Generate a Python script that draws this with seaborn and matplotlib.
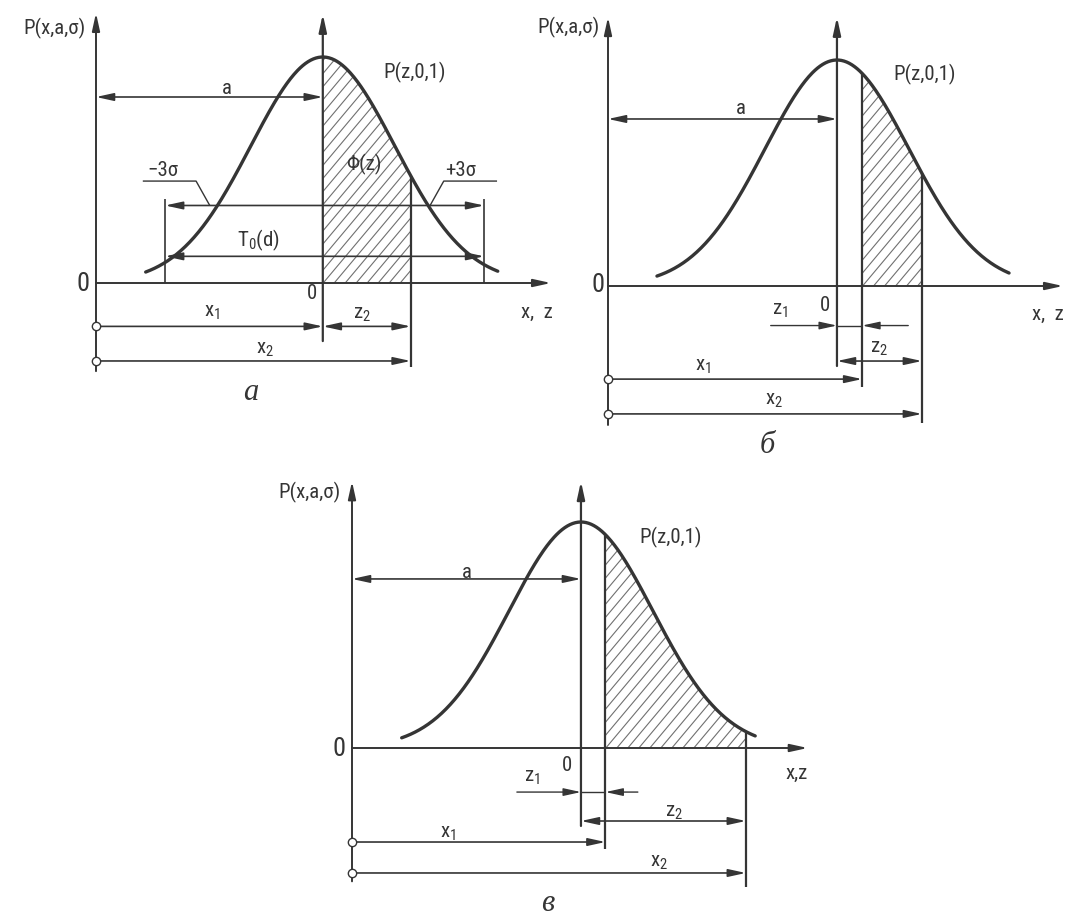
import numpy as np
import matplotlib
matplotlib.use("Agg")
import matplotlib.pyplot as plt
import seaborn as sns
from matplotlib import font_manager
from matplotlib.collections import LineCollection
from matplotlib.patches import Polygon

# ---------------------------------------------------------------------------
# Diagram parameters: horizontal values in units of sigma, vertical values
# in units of the peak density (the bell curve is normalised to a height of 1).
# ---------------------------------------------------------------------------
panel_names = ["а", "б", "в"]
mean_a = [3.15, 3.18, 3.18]            # distance a from the P-axis to the mean
z_lower = [0.0, 0.35, 0.34]            # z1, left edge of the shaded area
z_upper = [1.22, 1.18, 2.29]           # z2, right edge of the shaded area
curve_left = [-2.46, -2.50, -2.49]     # z where each drawn curve starts
curve_right = [2.43, 2.39, 2.42]       # z where each drawn curve ends
tolerance_z = [-2.19, 2.24]            # ends of the T0(d) field (panel a)

# ---------------------------------------------------------------------------
W, H, DPI = 1067, 920, 100
PX_X, PX_Y = 72.0, 226.0               # pixels per horizontal / vertical unit
INK = "#353535"
HATCH_INK = "#707070"
XLIM, YLIM = (-1.6, 6.7), (-0.8, 1.3)

sns.set_theme(style="white")
available = {f.name for f in font_manager.fontManager.ttflist}
SANS = next(n for n in ["Liberation Sans Narrow", "Roboto Condensed",
                        "Liberation Sans", "DejaVu Sans"] if n in available)
SERIF = "Liberation Serif" if "Liberation Serif" in available else "DejaVu Serif"
plt.rcParams["font.family"] = [SANS, "DejaVu Sans"]
plt.rcParams["mathtext.fontset"] = "custom"
plt.rcParams["mathtext.rm"] = SANS
plt.rcParams["mathtext.it"] = SANS
plt.rcParams["mathtext.default"] = "regular"

TXT = 15
ZERO_TXT = 19
CAP_TXT = 22

specs = [
    dict(origin=(96, 284), p_axis=(-0.39, 1.195), c_axis=(-0.257, 1.19),
         a_row=0.823, z1_row=None, z1_tails=None, z2_row=-0.192,
         x1_row=-0.192, x2_row=-0.345, z1_bottom=None, z2_bottom=-0.372,
         x_tip=6.32,
         labels=[("P(x,a,σ)", -0.14, 1.13, dict(ha="right")),
                 ("0", -0.18, 0.0, dict(size=ZERO_TXT)),
                 ("P(z,0,1)", 4.42, 0.938, {}),
                 ("a", 1.82, 0.867, {}),
                 ("Φ(z)", 3.72, 0.527, {}),
                 ("−3σ", 0.93, 0.504, {}),
                 ("+3σ", 5.06, 0.504, {}),
                 ("T$_0$(d)", 2.25, 0.195, {}),
                 ("0", 3.0, -0.04, {}),
                 ("x$_1$", 1.61, -0.128, {}),
                 ("z$_2$", 3.69, -0.137, {}),
                 ("x$_2$", 2.35, -0.292, {}),
                 ("x,  z", 6.13, -0.124, {})],
         caption=(2.15, -0.482)),
    dict(origin=(608, 287), p_axis=(-0.615, 1.19), c_axis=(-0.354, 1.19),
         a_row=0.739, z1_row=-0.175, z1_tails=(-0.92, 0.99), z2_row=-0.332,
         x1_row=-0.412, x2_row=-0.566, z1_bottom=-0.447, z2_bottom=-0.606,
         x_tip=6.32,
         labels=[("P(x,a,σ)", -0.12, 1.15, dict(ha="right")),
                 ("0", -0.14, 0.01, dict(size=ZERO_TXT)),
                 ("P(z,0,1)", 4.40, 0.942, {}),
                 ("a", 1.85, 0.792, {}),
                 ("z$_1$", 2.39, -0.102, {}),
                 ("0", 3.01, -0.08, {}),
                 ("z$_2$", 3.76, -0.274, {}),
                 ("x$_1$", 1.32, -0.35, {}),
                 ("x$_2$", 2.31, -0.504, {}),
                 ("x,  z", 6.11, -0.119, {})],
         caption=(2.22, -0.70)),
    dict(origin=(352, 749), p_axis=(-0.59, 1.18), c_axis=(-0.345, 1.18),
         a_row=0.748, z1_row=-0.195, z1_tails=(-0.89, 0.79), z2_row=-0.323,
         x1_row=-0.416, x2_row=-0.553, z1_bottom=-0.447, z2_bottom=-0.615,
         x_tip=6.33,
         labels=[("P(x,a,σ)", -0.16, 1.133, dict(ha="right")),
                 ("0", -0.18, 0.0, dict(size=ZERO_TXT)),
                 ("P(z,0,1)", 4.42, 0.934, {}),
                 ("a", 1.60, 0.783, {}),
                 ("z$_1$", 2.5, -0.128, {}),
                 ("0", 2.99, -0.071, {}),
                 ("z$_2$", 4.47, -0.279, {}),
                 ("x$_1$", 1.33, -0.372, {}),
                 ("x$_2$", 4.26, -0.504, {}),
                 ("x,z", 6.17, -0.106, {})],
         caption=(2.72, -0.685)),
]


def density(z):
    return np.exp(-0.5 * np.asarray(z) ** 2)


def arrow(ax, start, end, style="-|>", lw=1.0):
    ax.annotate("", xy=end, xytext=start, annotation_clip=False,
                arrowprops=dict(arrowstyle=f"{style},head_length=10.5,head_width=2.3",
                                mutation_scale=1, lw=lw, color=INK,
                                shrinkA=0, shrinkB=0))


def line(ax, xs, ys, lw=1.0, color=INK):
    ax.plot(xs, ys, color=color, lw=lw, solid_capstyle="butt", clip_on=False)


def panel_axes(fig, origin):
    ox, oy = origin
    left = (ox + XLIM[0] * PX_X) / W
    right = (ox + XLIM[1] * PX_X) / W
    top = 1 - (oy - YLIM[1] * PX_Y) / H
    bottom = 1 - (oy - YLIM[0] * PX_Y) / H
    ax = fig.add_axes([left, bottom, right - left, top - bottom])
    ax.set_xlim(*XLIM)
    ax.set_ylim(*YLIM)
    ax.set_facecolor("none")
    ax.axis("off")
    return ax


def hatch_area(ax, a, zl, zu):
    zs = np.linspace(zl, zu, 200)
    pts = np.column_stack([np.r_[a + zl, a + zs, a + zu],
                           np.r_[0.0, density(zs), 0.0]])
    clip = Polygon(pts, closed=True, fill=False, lw=0, transform=ax.transData)
    ax.add_patch(clip)
    # diagonal hatch lines about 11 px apart, rising at ~50 degrees
    slope = np.tan(np.radians(50)) * PX_X / PX_Y
    step = 11.0 / PX_X
    starts = np.arange(a + zl - 1.1 / slope, a + zu + step, step)
    segs = [[(s, 0.0), (s + 1.1 / slope, 1.1)] for s in starts]
    lc = LineCollection(segs, colors=HATCH_INK, linewidths=0.8)
    ax.add_collection(lc)
    lc.set_clip_path(clip)


fig = plt.figure(figsize=(W / DPI, H / DPI), dpi=DPI)
fig.patch.set_facecolor("white")

for k, spec in enumerate(specs):
    ax = panel_axes(fig, spec["origin"])
    a, zl, zu = mean_a[k], z_lower[k], z_upper[k]

    # shaded probability area
    hatch_area(ax, a, zl, zu)

    # bell curve
    zc = np.linspace(curve_left[k], curve_right[k], 400)
    sns.lineplot(x=a + zc, y=density(zc), ax=ax, color=INK, lw=2.4,
                 sort=False, estimator=None, legend=False)

    # axes of the diagram
    arrow(ax, (0, 0), (spec["x_tip"], 0), lw=1.4)
    arrow(ax, (0, spec["p_axis"][0]), (0, spec["p_axis"][1]), lw=1.4)
    arrow(ax, (a, spec["c_axis"][0]), (a, spec["c_axis"][1]), lw=1.6)

    # boundaries of the shaded area
    if spec["z1_bottom"] is not None:
        line(ax, [a + zl, a + zl], [density(zl), spec["z1_bottom"]], lw=1.6)
    line(ax, [a + zu, a + zu], [density(zu), spec["z2_bottom"]], lw=1.6)

    # dimension lines
    arrow(ax, (0, spec["a_row"]), (a, spec["a_row"]), style="<|-|>", lw=1.2)
    if spec["z1_row"] is not None:
        t0, t1 = spec["z1_tails"]
        arrow(ax, (a + t0, spec["z1_row"]), (a, spec["z1_row"]), lw=1.0)
        arrow(ax, (a + t1, spec["z1_row"]), (a + zl, spec["z1_row"]), lw=1.0)
        line(ax, [a, a + zl], [spec["z1_row"]] * 2, lw=1.0)
    arrow(ax, (a, spec["z2_row"]), (a + zu, spec["z2_row"]), style="<|-|>", lw=1.2)
    arrow(ax, (0, spec["x1_row"]), (a + zl, spec["x1_row"]), lw=1.2)
    arrow(ax, (0, spec["x2_row"]), (a + zu, spec["x2_row"]), lw=1.2)
    ax.plot([0, 0], [spec["x1_row"], spec["x2_row"]], ls="none", marker="o",
            ms=6, mfc="white", mec=INK, mew=1.0, clip_on=False, zorder=5)

    # tolerance field T0(d) with the +-3 sigma leaders
    if k == 0:
        lo, hi = a + tolerance_z[0], a + tolerance_z[1]
        line(ax, [lo, lo], [0, 0.37], lw=1.2)
        line(ax, [hi, hi], [0, 0.37], lw=1.2)
        arrow(ax, (lo, 0.343), (hi, 0.343), style="<|-|>", lw=1.2)
        arrow(ax, (lo, 0.118), (hi, 0.118), style="<|-|>", lw=1.2)
        line(ax, [0.65, 1.39, 1.58], [0.451, 0.451, 0.343], lw=1.0)
        line(ax, [5.57, 4.83, 4.64], [0.451, 0.451, 0.343], lw=1.0)

    for text, tx, ty, kw in spec["labels"]:
        opts = dict(ha="center", va="center", size=TXT, color=INK)
        opts.update(kw)
        ax.text(tx, ty, text, **opts)
    cx, cy = spec["caption"]
    ax.text(cx, cy, panel_names[k], ha="center", va="center", size=CAP_TXT,
            family=SERIF, style="italic", color=INK)

fig.savefig("out.png", dpi=DPI, facecolor="white")
